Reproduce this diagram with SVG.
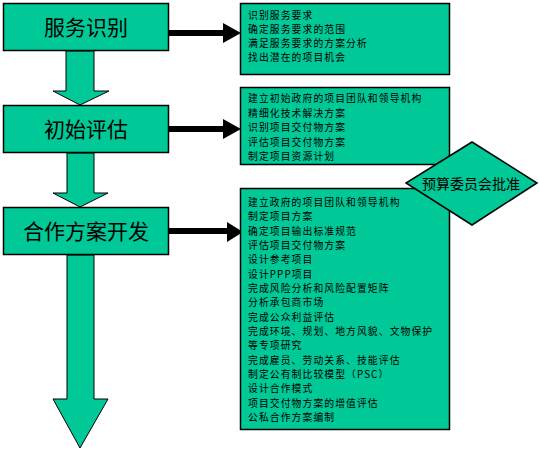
<svg xmlns="http://www.w3.org/2000/svg" width="540" height="449" viewBox="0 0 540 449">
<style>
.box{fill:#00C896;stroke:#000;stroke-width:1.5}
.garrow{fill:#00C896;stroke:#000;stroke-width:1}
.barrow{fill:#000;stroke:none}
.big{font-family:"Noto Sans CJK SC","Noto Sans",sans-serif;font-size:21px;fill:#000;text-anchor:middle}
.sm{font-family:"Noto Sans CJK SC","Noto Sans",sans-serif;font-size:9.8px;letter-spacing:1.1px;fill:#000}
.dm{font-family:"Noto Sans CJK SC","Noto Sans",sans-serif;font-size:14px;fill:#000;text-anchor:middle}
</style>
<rect width="540" height="449" fill="#fff"/>
<g id="connectors">
<path class="garrow" d="M66,51 V91 H53 L80,105 L109,91 H94 V51 Z"/>
<path class="garrow" d="M67,153 V193 H53 L80,207 L108,193 H94 V153 Z"/>
<path class="garrow" d="M67,255 V399 H53 L80,448 L108,399 H94 V255 Z"/>
<path class="barrow" d="M169,30 H223 V23 L241,33 L223,43 V36 H169 Z"/>
<path class="barrow" d="M169,126 H223 V119 L241,129 L223,139 V132 H169 Z"/>
<path class="barrow" d="M169,228 H227 V222 L243,232 L227,242 V234 H169 Z"/>
</g>
<g id="n1"><rect class="box" x="3.5" y="3.5" width="165" height="47"/><text class="big" x="86" y="35">服务识别</text></g>
<g id="n2"><rect class="box" x="3.5" y="105.5" width="165" height="47"/><text class="big" x="86" y="137">初始评估</text></g>
<g id="n3"><rect class="box" x="3.5" y="207.5" width="165" height="47"/><text class="big" x="86" y="239">合作方案开发</text></g>
<g id="r1"><rect class="box" x="240.5" y="3.5" width="209" height="71"/>
<text class="sm" x="248" y="19">识别服务要求</text>
<text class="sm" x="248" y="33">确定服务要求的范围</text>
<text class="sm" x="248" y="47">满足服务要求的方案分析</text>
<text class="sm" x="248" y="61">找出潜在的项目机会</text>
</g>
<g id="r2"><rect class="box" x="240.5" y="87.5" width="209" height="77"/>
<text class="sm" x="248" y="102">建立初始政府的项目团队和领导机构</text>
<text class="sm" x="248" y="116.5">精细化技术解决方案</text>
<text class="sm" x="248" y="131">识别项目交付物方案</text>
<text class="sm" x="248" y="145.5">评估项目交付物方案</text>
<text class="sm" x="248" y="160">制定项目资源计划</text>
</g>
<g id="r3"><rect class="box" x="240.5" y="188.5" width="209" height="241"/>
<text class="sm" x="248" y="206">建立政府的项目团队和领导机构</text>
<text class="sm" x="248" y="220.3">制定项目方案</text>
<text class="sm" x="248" y="234.7">确定项目输出标准规范</text>
<text class="sm" x="248" y="249">评估项目交付物方案</text>
<text class="sm" x="248" y="263.3">设计参考项目</text>
<text class="sm" x="248" y="277.7">设计PPP项目</text>
<text class="sm" x="248" y="292">完成风险分析和风险配置矩阵</text>
<text class="sm" x="248" y="306.3">分析承包商市场</text>
<text class="sm" x="248" y="320.7">完成公众利益评估</text>
<text class="sm" x="248" y="335">完成环境、规划、地方风貌、文物保护</text>
<text class="sm" x="248" y="349.3">等专项研究</text>
<text class="sm" x="248" y="363.7">完成雇员、劳动关系、技能评估</text>
<text class="sm" x="248" y="378">制定公有制比较模型（PSC）</text>
<text class="sm" x="248" y="392.3">设计合作模式</text>
<text class="sm" x="248" y="406.7">项目交付物方案的增值评估</text>
<text class="sm" x="248" y="421">公私合作方案编制</text>
</g>
<g id="d1"><path class="box" d="M472,142 L537,183 L472,225 L406,183 Z"/><text class="dm" x="471" y="189">预算委员会批准</text></g>
</svg>
